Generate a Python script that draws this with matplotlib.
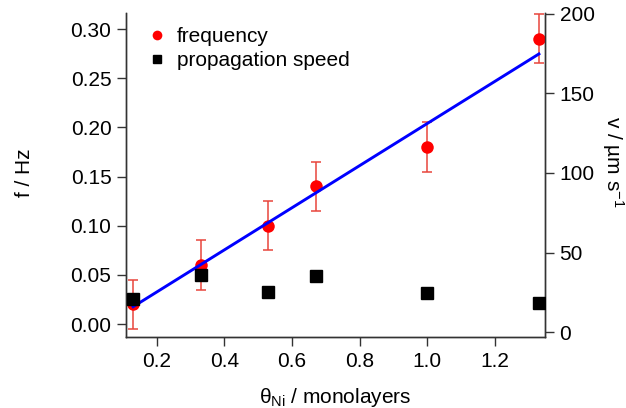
import matplotlib

matplotlib.use("Agg")
import matplotlib.pyplot as plt  # noqa: E402
from matplotlib.lines import Line2D  # noqa: E402
import numpy as np

plt.rcParams["font.family"] = ["Liberation Sans", "DejaVu Sans"]
plt.rcParams["mathtext.fontset"] = "custom"
plt.rcParams["mathtext.rm"] = "Liberation Sans"
plt.rcParams["mathtext.it"] = "Liberation Sans"

# coverage (monolayers)
theta_ni = [0.13, 0.33, 0.53, 0.67, 1.00, 1.33]
# oscillation frequency (Hz) and its error
freq_hz = [0.020, 0.060, 0.100, 0.140, 0.180, 0.290]
freq_err = [0.025, 0.025, 0.025, 0.025, 0.025, 0.025]
# propagation speed (um/s)
speed_um_s = [20.5, 36.0, 25.5, 35.0, 24.5, 18.5]
# linear fit line endpoints
fit_x = [0.13, 1.33]
fit_y = [0.0176, 0.2747]

FS = 15
red = "#ff0000"
err_red = "#e8453c"
spine_c = "#333333"

fig = plt.figure(figsize=(6.26, 4.08), dpi=100)
ax = fig.add_axes([0.2013, 0.174, 0.6693, 0.794])
ax2 = ax.twinx()

ax.errorbar(theta_ni, freq_hz, yerr=freq_err, fmt="none", ecolor=err_red,
            elinewidth=1.1, capsize=3.5, capthick=1.1, zorder=2)
ax.plot(theta_ni, freq_hz, "o", color=red, ms=9, mec="none", zorder=3)
ax.plot(fit_x, fit_y, "-", color="#0000ff", lw=2.1, zorder=4)
ax2.plot(theta_ni, speed_um_s, "s", color="black", ms=8, zorder=5)

ax.set_xlim(0.109, 1.348)
ax.set_ylim(-0.0132, 0.3163)
ax2.set_ylim(-3.1, 200.5)

ax.set_xticks(np.arange(0.2, 1.21, 0.2))
ax.set_xticklabels(["0.2", "0.4", "0.6", "0.8", "1.0", "1.2"])
ax.set_yticks(np.arange(0, 0.301, 0.05))
ax.set_yticklabels([f"{v:.2f}" for v in np.arange(0, 0.301, 0.05)])
ax2.set_yticks([0, 50, 100, 150, 200])

for a in (ax, ax2):
    a.spines["top"].set_visible(False)
    for s in ("left", "right", "bottom"):
        a.spines[s].set_color(spine_c)
        a.spines[s].set_linewidth(1.0)
    a.tick_params(direction="out", length=6.5, width=1.0, color=spine_c,
                  labelsize=FS, pad=4)

ax.set_xlabel(r"$\theta_{\rm Ni}$ / monolayers", fontsize=FS, labelpad=11)
fig.text(25 / 626, 1 - 173 / 408, "f / Hz", rotation=90, fontsize=FS,
         ha="center", va="center")
fig.text(613 / 626, 1 - 162 / 408, r"v / µm s$^{-1}$", rotation=270,
         fontsize=FS, ha="center", va="center")

handles = [
    Line2D([], [], ls="none", marker="o", color=red, mec="none", ms=7),
    Line2D([], [], ls="none", marker="s", color="black", ms=6),
]
ax2.legend(handles, ["frequency", "propagation speed"], loc="upper left",
           bbox_to_anchor=(0.005, 1.015), frameon=False, fontsize=FS,
           handletextpad=0.45, handlelength=1.0, labelspacing=0.25)

fig.savefig("out.png", dpi=100)
